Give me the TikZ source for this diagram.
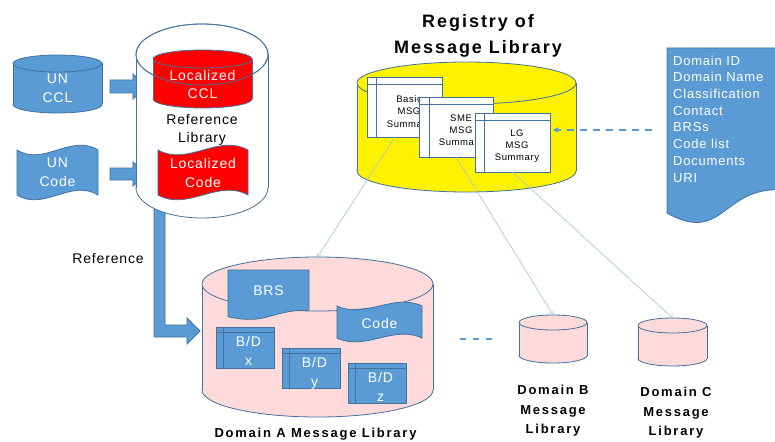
\documentclass[tikz,border=0pt]{standalone}
\usepackage{fontspec}
\setmainfont{Liberation Sans}[LetterSpace=6]
\newfontfamily\bfont{Liberation Sans}[LetterSpace=11]
\newfontfamily\lfont{Liberation Sans}[LetterSpace=13.5]
\usetikzlibrary{arrows.meta}
\definecolor{bfill}{HTML}{5B9BD5}
\definecolor{bline}{HTML}{41719C}
\definecolor{pinkf}{HTML}{FFDADA}
\definecolor{conn}{HTML}{9DC3E6}
\definecolor{redf}{HTML}{FF0000}
% cylinder: style, x0, x1, y top centre, y bottom centre, ry
\newcommand\mycyl[6]{%
  \pgfmathsetmacro\mcx{(#2+#3)/2}%
  \pgfmathsetmacro\mrx{(#3-#2)/2}%
  \path[#1] (\mcx,#5) ellipse[x radius=\mrx, y radius=#6];
  \path[#1,draw=none] (#2,#4) rectangle (#3,#5);
  \draw[#1,fill=none] (#2,#4) -- (#2,#5) (#3,#4) -- (#3,#5);
  \path[#1] (\mcx,#4) ellipse[x radius=\mrx, y radius=#6];
}
% wave (flag) shape: style, x0, y0, w, h, d
\newcommand\mywave[6]{%
  \path[#1] (#2,#3+#6) .. controls (#2+#4/3,#3+#6+3.33*#6) and (#2+2*#4/3,#3+#6-3.33*#6) .. (#2+#4,#3+#6)
    -- (#2+#4,#3+#5-#6) .. controls (#2+2*#4/3,#3+#5-#6-3.33*#6) and (#2+#4/3,#3+#5-#6+3.33*#6) .. (#2,#3+#5-#6) -- cycle;
}
% document shape: style, x0, y0, w, h
\newcommand\mydoc[5]{%
  \path[#1] (#2,#3) -- (#2+#4,#3) -- (#2+#4,#3+0.802*#5) .. controls (#2+0.5*#4,#3+0.802*#5) and (#2+0.5*#4,#3+1.1075*#5) .. (#2,#3+0.934*#5) -- cycle;
}
% internal storage box: style, name, cx, cy, w, h, line x offset, line y offset
\newcommand\istore[8]{%
  \node[istore,#1,minimum width=#5pt,minimum height=#6pt] (#2) at (#3,#4) {};
  \draw[outl] ([xshift=#7pt]#2.north west) -- ([xshift=#7pt]#2.south west);
  \draw[outl] ([yshift=-#8pt]#2.north west) -- ([yshift=-#8pt]#2.north east);
}
\begin{document}
\begin{tikzpicture}[x=1pt,y=-1pt,
  outl/.style={draw=bline,line width=0.8pt},
  bluesh/.style={fill=bfill,outl},
  redsh/.style={fill=redf,outl},
  wtxt/.style={text=white,align=center,inner sep=0pt},
  ktxt/.style={text=black,align=center,inner sep=0pt},
  f14/.style={font=\fontsize{14}{19}\selectfont},
  f14s/.style={font=\fontsize{14}{18}\selectfont},
  stxt/.style={ktxt,font=\fontsize{9.5}{12.3}\selectfont},
  btxt/.style={ktxt,font=\lfont\bfseries\fontsize{13}{19.5}\selectfont},
  istore/.style={rectangle,outl,inner sep=0pt,outer sep=0pt},
  connln/.style={draw=conn,line width=0.6pt,-{Straight Barb[length=3pt,width=6pt]}},
  dasharr/.style={draw=bfill,line width=1.8pt,dash pattern=on 7pt off 6pt,-{Triangle[length=5pt,width=5pt]}},
  shortdash/.style={draw=bfill,line width=1.8pt,dash pattern=on 6pt off 7pt},
]
\useasboundingbox (0,0) rectangle (775,441);
\clip (0,0) rectangle (775,441);
\fill[white] (0,0) rectangle (775,441);

% Reference arrow
\path[bluesh] (154,200) -- (165,200) -- (165,325) -- (187,325) -- (187,318) -- (200,331) -- (187,344) -- (187,337) -- (154,337) -- cycle;
% block arrows
\path[bluesh] (110,80) -- (133,80) -- (133,74) -- (147,86.5) -- (133,99) -- (133,93) -- (110,93) -- cycle;
\path[bluesh] (110,168) -- (133,168) -- (133,162) -- (147,174) -- (133,186) -- (133,180) -- (110,180) -- cycle;

% UN CCL
\mycyl{bluesh}{13}{102}{63.5}{104.5}{8.5}
\node[wtxt,f14] (unccl) at (57.5,88.5) {UN\\CCL};
% UN Code
\mywave{bluesh}{17}{145}{81}{55}{5}
\node[wtxt,f14] (uncode) at (57.5,172.5) {UN\\Code};

% Reference library
\mycyl{fill=white,outl}{136}{268}{54.5}{187.5}{30.5}
\mycyl{redsh}{153}{252}{59}{99}{9}
\draw[outl] (202,54.5) ellipse[x radius=66,y radius=30.5];
\node[wtxt,f14s] (locccl) at (202.5,84) {Localized\\CCL};
\node[ktxt,f14s] (reflib) at (202,129.5) {Reference\\Library};
\mywave{redsh}{158}{145}{90}{55}{5}
\node[wtxt,f14] (loccode) at (203,172.5) {Localized\\Code};
\node[ktxt,f14] (reflabel) at (108,259) {Reference};

% Registry
\node[ktxt,font=\bfont\bfseries\fontsize{18}{26}\selectfont] (title) at (478,36) {Registry of\\Message Library};
\mycyl{fill=yellow,outl}{357}{576}{83}{171}{21}
\istore{fill=white}{basic}{404.5}{107}{75}{60}{9}{7}
\node[stxt] (basictxt) at (409,112.3) {Basic\\MSG\\Summary};
\istore{fill=white}{sme}{456}{127}{74}{60}{10}{7}
\node[stxt] (smetxt) at (461,131.3) {SME\\MSG\\Summary};
\istore{fill=white}{lg}{512.5}{142.5}{75}{59}{9}{7}
\node[stxt] (lgtxt) at (517,146.3) {LG\\MSG\\Summary};

% info document
\mydoc{bluesh}{667}{48}{110}{176.7}
\node[wtxt,align=left,anchor=north west,font=\fontsize{13}{16.7}\selectfont] (info) at (673,55.5)
  {Domain ID\\Domain Name\\Classification\\Contact\\BRSs\\Code list\\Documents\\URI};
\coordinate (infoL) at (652,130);

% Domain A
\mycyl{fill=pinkf,outl}{202}{433}{284}{390}{27}
\coordinate (cylAtop) at (317.5,257);
\mydoc{bluesh}{228}{270}{81}{50}
\node[wtxt,f14] (brs) at (268.5,291) {BRS};
\mywave{bluesh}{337}{302}{85}{40}{4}
\node[wtxt,f14] (codeA) at (379.5,323) {Code};
\istore{bluesh}{bdx}{245}{347.5}{58}{41}{7}{5}
\node[wtxt,f14] (bdxt) at (248.5,350.5) {B/D\\x};
\istore{bluesh}{bdy}{311}{368}{58}{40}{7}{5}
\node[wtxt,f14] (bdyt) at (314.5,373) {B/D\\y};
\istore{bluesh}{bdz}{377}{383}{58}{40}{7}{5}
\node[wtxt,f14] (bdzt) at (380.5,386.5) {B/D\\z};
\node[btxt] (domAl) at (315.5,434) {Domain A Message Library};

% dashes between domains
\coordinate (dashA) at (460,339);
\coordinate (dashB) at (492,339);
\draw[shortdash] (dashA) -- (dashB);

% Domain B and C
\mycyl{fill=pinkf,outl}{519}{587}{322.5}{355.5}{7.5}
\coordinate (cylBtop) at (553,315);
\node[btxt] (domBl) at (553,411) {Domain B\\Message\\Library};
\mycyl{fill=pinkf,outl}{638}{707}{325.5}{358.5}{7.5}
\coordinate (cylCtop) at (672.5,318);
\node[btxt] (domCl) at (676,413) {Domain C\\Message\\Library};

% connectors
\draw[connln] ([xshift=-9.5pt]basic.south) -- (cylAtop);
\draw[connln] (sme.south) -- (cylBtop);
\draw[connln] (lg.south) -- (cylCtop);
\draw[dasharr,shorten >=3pt] (infoL) -- (infoL -| lg.east);
\end{tikzpicture}
\end{document}
